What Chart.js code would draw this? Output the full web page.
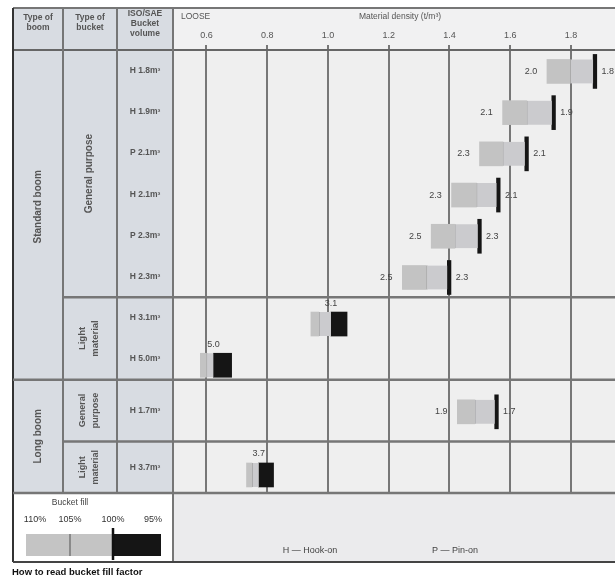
<!DOCTYPE html>
<html><head><meta charset="utf-8">
<script src="https://cdn.jsdelivr.net/npm/chart.js@4/dist/chart.umd.min.js"></script>
<style>html,body{margin:0;padding:0;background:#fff;}#wrap{width:615px;height:576px;position:relative;overflow:hidden}</style>
</head><body><div id="wrap"><canvas id="c" width="615" height="576"></canvas></div>
<script>
// ---- data ----
const rowLabels   = ['H 1.8m³','H 1.9m³','P 2.1m³','H 2.1m³','P 2.3m³','H 2.3m³','H 3.1m³','H 5.0m³','H 1.7m³','H 3.7m³'];
const bucketKind  = ['G','G','G','G','G','G','L','L','G','L'];   // G = general purpose, L = light material
const fill110     = [1.721,1.575,1.499,1.407,1.340,1.245,0.944,0.580,1.426,0.732];
const fill105     = [1.797,1.654,1.575,1.489,1.417,1.324,0.970,0.600,1.483,0.750];
const fill100     = [1.873,1.737,1.648,1.555,1.493,1.393,1.010,0.623,1.549,0.772];
const fill95      = [1.885,1.749,1.660,1.567,1.505,1.405,1.063,0.683,1.561,0.821];
const leftLabels  = ['2.0','2.1','2.3','2.3','2.5','2.5',null,null,'1.9',null];
const rightLabels = ['1.8','1.9','2.1','2.1','2.3','2.3',null,null,'1.7',null];
const topLabels   = [null,null,null,null,null,null,'3.1','5.0',null,'3.7'];
const densityTicks = [0.6,0.8,1.0,1.2,1.4,1.6,1.8];
const legendFills = ['110%','105%','100%','95%'];

// ---- layout of row groups (row index lists and relative heights) ----
const groups = [
  {rows:[0,1,2,3,4,5], span:6},
  {rows:[6,7], span:2},
  {rows:[8], span:1.5},
  {rows:[9], span:1.25}
];
const totalSpan = groups.reduce((a,g)=>a+g.span,0);
const rowCenter = [], rowMid = [], groupEdges = [];
let acc = 0;
groups.forEach(g=>{
  const h = g.span/g.rows.length;
  g.rows.forEach((r,k)=>{
    rowMid[r] = acc + (k+0.5)*h;
    rowCenter[r] = rowMid[r] + (bucketKind[r]==='L' ? 0.15*h : 0.02*h);
  });
  acc += g.span; groupEdges.push(acc);
});

const FONT = 'Liberation Sans, Arial, sans-serif';
const idx = rowLabels.map((_,i)=>i);
const pts = (sel, a, b) => idx.filter(sel).map(i=>({x:[a[i], b[i]], y:rowCenter[i]}));
const all = ()=>true;

const datasets = [
  {data: pts(all, fill110, fill105), backgroundColor:'#c3c3c3', barThickness:24, grouped:false, borderWidth:0},
  {data: pts(all, fill105, fill100), backgroundColor:'#cbcbce', barThickness:24, grouped:false,
   borderWidth:{left:1,right:0,top:0,bottom:0}, borderColor:'#8a8a8a', borderSkipped:false},
  {data: pts(i=>bucketKind[i]==='G', fill100, fill95), backgroundColor:'#151515', barThickness:34, grouped:false, borderWidth:0},
  {data: pts(i=>bucketKind[i]==='L', fill100, fill95), backgroundColor:'#151515', barThickness:24, grouped:false, borderWidth:0}
];

function line(ctx,x1,y1,x2,y2,c,w){ctx.strokeStyle=c;ctx.lineWidth=w;ctx.beginPath();ctx.moveTo(x1,y1);ctx.lineTo(x2,y2);ctx.stroke();}
function txt(ctx,t,x,y,size,opt={}){
  ctx.save();ctx.font=(opt.bold?'bold ':'')+size+'px '+FONT;ctx.fillStyle=opt.color||'#4a4a4a';
  ctx.textAlign=opt.align||'center';ctx.textBaseline='middle';
  if(opt.rot){ctx.translate(x,y);ctx.rotate(-Math.PI/2);ctx.fillText(t,0,0);} else ctx.fillText(t,x,y);
  ctx.restore();
}
function rotLines(ctx,linesArr,x,y,size,gap){
  const n=linesArr.length;
  linesArr.forEach((t,k)=>txt(ctx,t,x+(k-(n-1)/2)*gap,y,size,{rot:true,bold:true,color:'#555'}));
}

const L = {x0:13, c1:63, c2:117, c3:173, top:8, head:50, plotBottom:493, bottom:562};

const backPlugin = {
  id:'back',
  beforeDraw(chart){
    const ctx=chart.ctx, W=chart.width;
    ctx.save();
    ctx.fillStyle='#ffffff';ctx.fillRect(0,0,W,chart.height);
    ctx.fillStyle='#d8dce2';ctx.fillRect(L.x0,L.top,L.c3-L.x0,L.plotBottom-L.top);
    ctx.fillStyle='#f1f1f2';ctx.fillRect(L.c3,L.top,W-L.c3,L.head-L.top);
    ctx.fillStyle='#efefef';ctx.fillRect(L.c3,L.head,W-L.c3,L.plotBottom-L.head);
    ctx.fillStyle='#ebebed';ctx.fillRect(L.c3,L.plotBottom,W-L.c3,L.bottom-L.plotBottom);
    ctx.fillStyle='#ffffff';ctx.fillRect(L.x0,L.plotBottom,L.c3-L.x0,L.bottom-L.plotBottom);
    ctx.restore();
  }
};

const overPlugin = {
  id:'over',
  afterDraw(chart){
    const ctx=chart.ctx, W=chart.width, xs=chart.scales.x, ys=chart.scales.y;
    ctx.save();
    const g='#767676';
    line(ctx,L.x0,L.top,W,L.top,g,2);
    line(ctx,L.x0,L.head,W,L.head,'#666',2);
    [L.c1,L.c2].forEach(x=>line(ctx,x,L.top,x,L.plotBottom,g,2));
    line(ctx,L.c3,L.top,L.c3,L.bottom,g,2);
    line(ctx,L.x0,L.top,L.x0,L.bottom,'#333',2);
    const ye = groupEdges.map(v=>ys.getPixelForValue(v));
    line(ctx,L.c1,ye[0],W,ye[0],g,2.5);
    line(ctx,L.x0,ye[1],W,ye[1],g,2.5);
    line(ctx,L.c1,ye[2],W,ye[2],g,2.5);
    line(ctx,L.x0,ye[3],W,ye[3],g,2.5);
    line(ctx,L.x0,L.bottom,W,L.bottom,'#444',2);
    txt(ctx,'Type of',38,18,8.5,{bold:true,color:'#555'});txt(ctx,'boom',38,28,8.5,{bold:true,color:'#555'});
    txt(ctx,'Type of',90,18,8.5,{bold:true,color:'#555'});txt(ctx,'bucket',90,28,8.5,{bold:true,color:'#555'});
    txt(ctx,'ISO/SAE',145,14,8.5,{bold:true,color:'#555'});txt(ctx,'Bucket',145,24,8.5,{bold:true,color:'#555'});txt(ctx,'volume',145,34,8.5,{bold:true,color:'#555'});
    txt(ctx,'LOOSE',181,17,8.5,{align:'left',color:'#555'});
    txt(ctx,'Material density (t/m³)',400,17,8.5,{color:'#555'});
    const yp=v=>ys.getPixelForValue(v);
    txt(ctx,'Standard boom',38,(L.head+ye[1])/2-8,10,{rot:true,bold:true,color:'#555'});
    txt(ctx,'Long boom',38,(ye[1]+ye[3])/2,10,{rot:true,bold:true,color:'#555'});
    txt(ctx,'General purpose',89,(L.head+ye[0])/2,10,{rot:true,bold:true,color:'#555'});
    rotLines(ctx,['Light','material'],89,(ye[0]+ye[1])/2,9.5,13);
    rotLines(ctx,['General','purpose'],89,(ye[1]+ye[2])/2,9,13);
    rotLines(ctx,['Light','material'],89,(ye[2]+ye[3])/2,9,13);
    rowLabels.forEach((t,i)=>txt(ctx,t,145,yp(rowMid[i]),8.5,{bold:true,color:'#555'}));
    idx.forEach(i=>{
      const yc=yp(rowCenter[i]);
      if(leftLabels[i]) txt(ctx,leftLabels[i],xs.getPixelForValue(fill110[i])-16,yc,9,{color:'#444'});
      if(rightLabels[i]) txt(ctx,rightLabels[i],xs.getPixelForValue(fill95[i])+11,yc,9,{color:'#444'});
      if(topLabels[i]) txt(ctx,topLabels[i],xs.getPixelForValue(fill100[i]),yc-21,9,{color:'#444'});
    });
    txt(ctx,'Bucket fill',70,503,8.5,{color:'#444'});
    const lx=[35,70,113,153];
    legendFills.forEach((t,k)=>txt(ctx,t,lx[k],520,9,{color:'#333'}));
    ctx.fillStyle='#c4c4c4';ctx.fillRect(26,534,87,22);
    line(ctx,70,534,70,556,'#777',1.5);
    ctx.fillStyle='#151515';ctx.fillRect(113,534,48,22);
    line(ctx,113,528,113,560,'#111',2.5);
    txt(ctx,'H — Hook-on',310,551,9,{color:'#444'});
    txt(ctx,'P — Pin-on',455,551,9,{color:'#444'});
    txt(ctx,'How to read bucket fill factor',12,572,9.5,{bold:true,align:'left',color:'#111'});
    ctx.restore();
  }
};

new Chart(document.getElementById('c'), {
  type:'bar',
  data:{datasets},
  options:{
    indexAxis:'y', responsive:false, animation:false, devicePixelRatio:1,
    layout:{padding:{left:L.c3,right:0,top:0,bottom:576-L.plotBottom}},
    plugins:{legend:{display:false},tooltip:{enabled:false}},
    scales:{
      x:{type:'linear',position:'top',min:0.49,max:1.945,offset:false,
         afterBuildTicks:s=>{s.ticks=densityTicks.map(v=>({value:v}));},
         afterFit:s=>{s.height=L.head;},
         ticks:{callback:v=>Number(v).toFixed(1),font:{size:9,family:FONT},color:'#555',padding:4,maxRotation:0,autoSkip:false},
         grid:{color:'#777',lineWidth:2,drawTicks:true,tickLength:5,tickColor:'#777',offset:false},
         border:{display:false}},
      y:{type:'linear',reverse:true,min:0,max:totalSpan,display:false,offset:false,grid:{offset:false}}
    }
  },
  plugins:[backPlugin,overPlugin]
});
</script></body></html>
